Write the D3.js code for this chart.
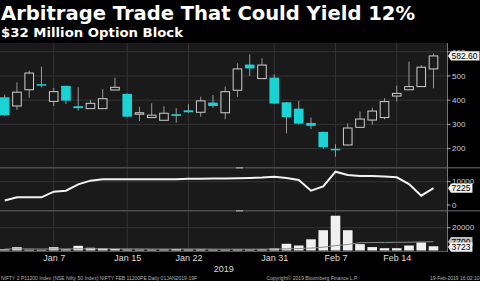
<!DOCTYPE html>
<html>
<head>
<meta charset="utf-8">
<script src="https://cdn.jsdelivr.net/npm/d3@7"></script>
<style>
  body { margin: 0; background: #000; }
  svg { display: block; }
</style>
</head>
<body>
<svg id="chart" width="480" height="281"></svg>
<script>
// Daily data, NIFTY FEB 11200PE
const dates = ["Jan 1","Jan 2","Jan 3","Jan 4","Jan 7","Jan 8","Jan 9","Jan 10","Jan 11",
  "Jan 14","Jan 15","Jan 16","Jan 17","Jan 18","Jan 21","Jan 22","Jan 23","Jan 24","Jan 25",
  "Jan 28","Jan 29","Jan 30","Jan 31","Feb 1","Feb 4","Feb 5","Feb 6","Feb 7","Feb 8",
  "Feb 11","Feb 12","Feb 13","Feb 14","Feb 15","Feb 18","Feb 19"];
const open  = [412,376,443,466,395,459,375,365,365,442,426,343,328,317,342,358,350,390,348,
  441,547,489,493,391,365,306,269,199,215,288,318,328,417,443,456,529];
const high  = [423,474,522,538,450,460,453,401,445,493,428,373,387,375,367,383,414,421,456,
  552,589,573,507,392,397,328,270,218,305,353,369,408,460,559,545,593];
const low   = [335,360,410,453,376,384,357,364,363,441,330,314,326,316,307,348,332,369,321,
  414,500,488,384,263,300,281,199,167,213,287,298,321,394,442,455,449];
const close = [338,433,512,460,435,398,367,387,406,453,332,348,338,346,335,350,397,376,435,
  529,531,545,386,330,303,294,206,193,285,322,355,394,428,456,536,582.6];
const openInterest = [1900,3300,3300,3300,5700,6150,8870,10440,11000,11000,11000,11000,11000,
  11000,11050,11300,11300,11350,11400,11450,11550,11750,12100,11600,10750,6150,8000,14300,
  12870,12450,12400,12200,11900,9000,4000,7225];
const volume = [1000,2900,700,600,2900,1000,4100,2400,1900,1400,900,800,800,900,1300,900,1000,
  800,800,900,900,1000,1800,5900,4400,9800,17800,30500,17800,5600,3000,2000,2000,4400,7100,3723];
const volumeAvg = [1300,1400,1400,1300,1400,1400,1500,1500,1500,1500,1400,1400,1300,1300,1300,
  1300,1300,1200,1200,1200,1200,1200,1300,1500,1700,2100,2900,4300,5300,6800,7000,7100,7200,
  7300,7500,7700];
const tickDates = ["Jan 7","Jan 15","Jan 22","Jan 31","Feb 7","Feb 14"];
const priceTicks = [200,300,400,500,600];
const oiTicks = [0,10000];
const volTicks = [20000];

const svg = d3.select("#chart");
const plotR = 447;
const font = "Liberation Sans, Arial, sans-serif";

svg.append("rect").attr("width", 480).attr("height", 281).attr("fill", "#000");
svg.append("rect").attr("x", 0).attr("y", 43).attr("width", plotR).attr("height", 208.5).attr("fill", "#1a1a1a");

// scales
const x = d3.scalePoint().domain(dates).range([4.7, 433.5]);
const bodyW = 9.6;
const yMain = d3.scaleLinear().domain([122, 636]).range([167.5, 43]);
const yOI = d3.scaleLinear().domain([-2150, 15660]).range([210, 168.5]);
const yVol = d3.scaleLinear().domain([0, 34200]).range([250.5, 211.5]);

// grid
const grid = svg.append("g").attr("stroke", "#333").attr("stroke-width", 1);
tickDates.forEach(d => grid.append("line").attr("x1", x(d)).attr("x2", x(d)).attr("y1", 43).attr("y2", 251.5));
priceTicks.forEach(t => grid.append("line").attr("x1", 0).attr("x2", plotR).attr("y1", yMain(t)).attr("y2", yMain(t)));
grid.append("line").attr("x1", 0).attr("x2", plotR).attr("y1", yOI(10000)).attr("y2", yOI(10000));
volTicks.forEach(t => grid.append("line").attr("x1", 0).attr("x2", plotR).attr("y1", yVol(t)).attr("y2", yVol(t)));

// panel separators
[167.8, 210.8].forEach(y => {
  svg.append("line").attr("x1", 0).attr("x2", 480).attr("y1", y).attr("y2", y)
    .attr("stroke", "#4d4d4d").attr("stroke-width", 1.5);
  svg.append("line").attr("x1", 236).attr("x2", 243).attr("y1", y).attr("y2", y)
    .attr("stroke", "#999").attr("stroke-width", 1.5);
});
svg.append("line").attr("x1", 0).attr("x2", plotR).attr("y1", 251.5).attr("y2", 251.5)
  .attr("stroke", "#555").attr("stroke-width", 1);
svg.append("line").attr("x1", plotR + 0.5).attr("x2", plotR + 0.5).attr("y1", 43).attr("y2", 252)
  .attr("stroke", "#777").attr("stroke-width", 1);

// candles
const candles = svg.append("g");
dates.forEach((d, i) => {
  const up = close[i] >= open[i];
  const cx = x(d);
  candles.append("line").attr("x1", cx).attr("x2", cx)
    .attr("y1", yMain(high[i])).attr("y2", yMain(low[i]))
    .attr("stroke", "#9a9a9a").attr("stroke-width", 1);
  const top = yMain(Math.max(open[i], close[i]));
  const h = Math.max(1.5, yMain(Math.min(open[i], close[i])) - top);
  if (up) {
    candles.append("rect").attr("x", cx - bodyW / 2 + 0.5).attr("y", top)
      .attr("width", bodyW - 1).attr("height", h)
      .attr("fill", "#1a1a1a").attr("stroke", "#cfcfcf").attr("stroke-width", 1);
  } else {
    candles.append("rect").attr("x", cx - bodyW / 2).attr("y", top)
      .attr("width", bodyW).attr("height", h).attr("fill", "#1ad3d5");
  }
});

// open interest line
svg.append("path").datum(openInterest)
  .attr("fill", "none").attr("stroke", "#f2f2f2").attr("stroke-width", 2)
  .attr("d", d3.line().x((d, i) => x(dates[i])).y(d => yOI(d)));

// volume
svg.append("g").selectAll("rect").data(volume).join("rect")
  .attr("x", (d, i) => x(dates[i]) - bodyW / 2)
  .attr("y", d => yVol(d))
  .attr("width", bodyW)
  .attr("height", d => yVol(0) - yVol(d))
  .attr("fill", "#f0f0f0");
svg.append("path").datum(volumeAvg)
  .attr("fill", "none").attr("stroke", "#8a8a8a").attr("stroke-width", 1)
  .attr("d", d3.line().x((d, i) => x(dates[i])).y(d => yVol(d)));

// right axis labels
function rightTicks(ticks, scale) {
  ticks.forEach(t => {
    svg.append("line").attr("x1", plotR).attr("x2", plotR + 3.5)
      .attr("y1", scale(t)).attr("y2", scale(t)).attr("stroke", "#aaa");
    svg.append("text").attr("x", 452).attr("y", scale(t)).attr("dy", "0.35em")
      .attr("font-family", font).attr("font-size", 8).attr("fill", "#cfcfcf").text(t);
  });
}
rightTicks(priceTicks, yMain);
rightTicks(oiTicks, yOI);
rightTicks(volTicks, yVol);

function valueBox(y, label, fill) {
  const g = svg.append("g");
  const p = g.append("path").attr("fill", fill);
  const t = g.append("text").attr("x", 451.5).attr("y", y).attr("dy", "0.35em")
    .attr("font-family", font).attr("font-size", 8.5).attr("fill", "#000").text(label);
  const w = t.node().getComputedTextLength();
  const r = Math.min(480, 451.5 + w + 2);
  p.attr("d", `M448,${y} L451,${y - 4.6} L${r},${y - 4.6} L${r},${y + 4.6} L451,${y + 4.6} Z`);
}
valueBox(yMain(close[close.length - 1]), close[close.length - 1].toFixed(2), "#f2f2f2");
valueBox(yOI(openInterest[openInterest.length - 1]), openInterest[openInterest.length - 1], "#f2f2f2");
valueBox(yVol(volumeAvg[volumeAvg.length - 1]), volumeAvg[volumeAvg.length - 1], "#bdbdbd");
valueBox(yVol(volume[volume.length - 1]) + 0.8, volume[volume.length - 1], "#f2f2f2");

// x axis
const xAxis = svg.append("g").attr("transform", "translate(0,255)")
  .call(d3.axisBottom(x).tickValues(tickDates).tickSize(0).tickPadding(0));
xAxis.select(".domain").remove();
xAxis.selectAll("text").attr("font-family", font).attr("font-size", 9).attr("fill", "#dcdcdc");
svg.append("text").attr("x", 223.7).attr("y", 272).attr("text-anchor", "middle")
  .attr("font-family", font).attr("font-size", 9).attr("fill", "#dcdcdc").text("2019");

// footer
const foot = [
  {x: 1, len: 196, text: "NIFTY 2 P11200 Index (NSE Nifty 50 Index) NIFTY FEB 11200PE  Daily 01JAN2019-19F"},
  {x: 266.5, len: 91.5, text: "Copyright\u00a9 2019 Bloomberg Finance L.P."},
  {x: 430, len: 49.5, text: "19-Feb-2019 16:02:10"}
];
foot.forEach(f => svg.append("text").attr("x", f.x).attr("y", 279.6)
  .attr("font-family", font).attr("font-size", 4.8).attr("fill", "#b5b5b5")
  .attr("textLength", f.len).attr("lengthAdjust", "spacingAndGlyphs").text(f.text));

// titles
svg.append("text").attr("x", 1).attr("y", 19.5)
  .attr("font-family", "DejaVu Sans, sans-serif").attr("font-weight", "bold").attr("font-size", 19)
  .attr("fill", "#fff").attr("textLength", 414).attr("lengthAdjust", "spacingAndGlyphs")
  .text("Arbitrage Trade That Could Yield 12%");
svg.append("text").attr("x", 1).attr("y", 36.5)
  .attr("font-family", "DejaVu Sans, sans-serif").attr("font-weight", "bold").attr("font-size", 13)
  .attr("fill", "#fff").attr("textLength", 182).attr("lengthAdjust", "spacingAndGlyphs")
  .text("$32 Million Option Block");
</script>
</body>
</html>
